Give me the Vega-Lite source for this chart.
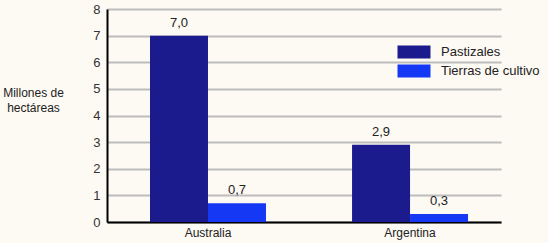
{
  "$schema": "https://vega.github.io/schema/vega-lite/v6.json",
  "width": 394,
  "height": 213,
  "autosize": {"type": "none"},
  "padding": {"left": 107, "top": 9, "right": 47, "bottom": 21},
  "background": "#FDF9F3",
  "config": {
    "view": {"stroke": null},
    "font": "Liberation Sans",
    "locale": {"number": {"decimal": ",", "thousands": ".", "grouping": [3], "currency": ["", " €"]}}
  },
  "data": {
    "values": [
      {"pais": "Australia", "tipo": "Pastizales", "valor": 7.0},
      {"pais": "Australia", "tipo": "Tierras de cultivo", "valor": 0.7},
      {"pais": "Argentina", "tipo": "Pastizales", "valor": 2.9},
      {"pais": "Argentina", "tipo": "Tierras de cultivo", "valor": 0.3}
    ]
  },
  "encoding": {
    "x": {
      "field": "pais", "type": "nominal", "sort": ["Australia", "Argentina"],
      "scale": {"paddingInner": 0.426, "paddingOuter": 0.188, "align": 0.566},
      "axis": {"title": null, "labelAngle": 0, "ticks": false, "domainColor": "#000", "domainWidth": 2, "labelFontSize": 12, "labelColor": "#222", "labelPadding": 5}
    },
    "xOffset": {"field": "tipo", "type": "nominal", "sort": ["Pastizales", "Tierras de cultivo"], "scale": {"paddingInner": 0, "paddingOuter": 0}},
    "y": {
      "field": "valor", "type": "quantitative",
      "scale": {"domain": [0, 8], "nice": false},
      "axis": {
        "values": [0, 1, 2, 3, 4, 5, 6, 7, 8], "ticks": false, "grid": true, "gridColor": "#BDBDBD", "gridWidth": 2,
        "domainColor": "#000", "domainWidth": 2, "labelFontSize": 13, "labelColor": "#333", "labelPadding": 7,
        "title": ["Millones de", "hectáreas"], "titleAngle": 0, "titleFontWeight": "normal", "titleFontSize": 12,
        "titleColor": "#222", "titleAlign": "center", "titleBaseline": "middle", "titleX": -74, "titleY": 83, "titleLineHeight": 15
      }
    }
  },
  "layer": [
    {
      "mark": {"type": "bar"},
      "encoding": {
        "color": {
          "field": "tipo", "type": "nominal", "sort": ["Pastizales", "Tierras de cultivo"],
          "scale": {"range": ["#1B1B8E", "#1538F5"]},
          "legend": {
            "title": null, "orient": "none", "legendX": 300, "legendY": 36,
            "symbolType": "M-2.5,-1H2.5V1H-2.5Z", "symbolSize": 174, "symbolStrokeWidth": 0,
            "labelFontSize": 13, "labelColor": "#222", "rowPadding": 5, "labelOffset": 20
          }
        }
      }
    },
    {
      "mark": {"type": "text", "baseline": "bottom", "dy": -6, "fontSize": 13, "color": "#222"},
      "encoding": {"text": {"field": "valor", "type": "quantitative", "format": ".1f"}}
    }
  ]
}
